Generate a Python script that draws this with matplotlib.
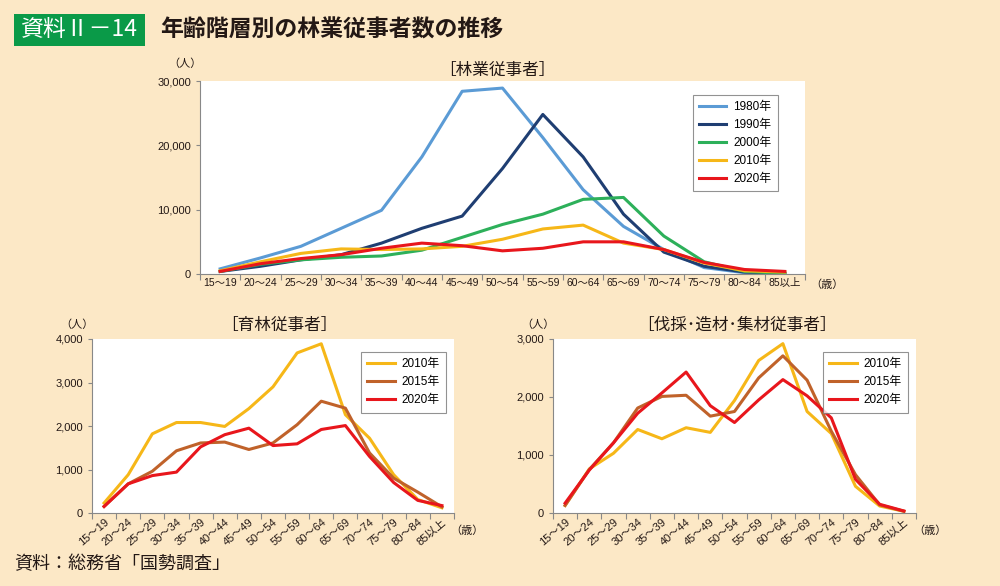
import matplotlib
matplotlib.use('Agg')
import matplotlib.pyplot as plt
from matplotlib.patches import Rectangle
import numpy as np

plt.rcParams['font.family'] = ['Noto Sans CJK JP', 'DejaVu Sans']
num_font = ['Liberation Sans', 'Noto Sans CJK JP']

ages = ['15〜19', '20〜24', '25〜29', '30〜34', '35〜39', '40〜44', '45〜49', '50〜54',
        '55〜59', '60〜64', '65〜69', '70〜74', '75〜79', '80〜84', '85以上']

# 林業従事者 (人)
total_1980 = [800, 2500, 4300, 7100, 9900, 18200, 28400, 28900, 21200, 13100, 7400, 3800, 1000, 200, 100]
total_1990 = [400, 1200, 2200, 3000, 4800, 7100, 9000, 16400, 24800, 18200, 9300, 3400, 1200, 300, 100]
total_2000 = [400, 1500, 2200, 2600, 2800, 3700, 5700, 7700, 9300, 11600, 11900, 5900, 1900, 400, 100]
total_2010 = [500, 1900, 3200, 3900, 3800, 3900, 4300, 5400, 7000, 7600, 4800, 3800, 1700, 500, 300]
total_2020 = [400, 1600, 2400, 3000, 4000, 4800, 4400, 3600, 4000, 5000, 5000, 3800, 1800, 700, 400]

# 育林従事者 (人)
iku_2010 = [230, 880, 1820, 2080, 2080, 1990, 2400, 2900, 3680, 3890, 2260, 1720, 880, 310, 120]
iku_2015 = [150, 670, 960, 1430, 1610, 1630, 1460, 1610, 2030, 2570, 2410, 1380, 800, 480, 140]
iku_2020 = [150, 670, 860, 940, 1520, 1800, 1950, 1550, 1590, 1920, 2010, 1300, 700, 290, 170]

# 伐採・造材・集材従事者 (人)
bas_2010 = [130, 760, 1030, 1440, 1280, 1470, 1390, 1940, 2630, 2920, 1750, 1370, 460, 120, 30]
bas_2015 = [130, 750, 1210, 1810, 2010, 2030, 1670, 1750, 2330, 2710, 2290, 1410, 660, 140, 30]
bas_2020 = [170, 740, 1210, 1720, 2070, 2430, 1850, 1560, 1950, 2300, 2020, 1640, 580, 150, 35]

bg = '#FCE8C6'
c_1980 = '#5B9BD5'
c_1990 = '#1F3E72'
c_2000 = '#2DB05A'
c_2010 = '#F6B718'
c_2015 = '#C0622A'
c_2020 = '#E8161C'
txt = '#231815'
W, H = 1000, 586

fig = plt.figure(figsize=(W / 100, H / 100), dpi=100, facecolor=bg)


def box(l, t, r, b):
    return fig.add_axes([l / W, 1 - b / H, (r - l) / W, (b - t) / H])


def style(ax, ymax, ystep, rotate):
    x = np.arange(len(ages))
    ax.set_xlim(-0.5, len(ages) - 0.5)
    ax.set_ylim(0, ymax)
    ax.set_facecolor('white')
    for s in ['top', 'right']:
        ax.spines[s].set_visible(False)
    for s in ['left', 'bottom']:
        ax.spines[s].set_color('#888888')
        ax.spines[s].set_linewidth(0.8)
    ax.set_xticks(np.arange(-0.5, len(ages)), [''] * (len(ages) + 1))
    ax.set_xticks(x, ages, minor=True)
    ax.tick_params(axis='x', which='major', length=4, color='#888888', direction='out')
    ax.tick_params(axis='x', which='minor', length=0, labelsize=7.5, colors=txt, pad=3)
    yt = np.arange(0, ymax + 1, ystep)
    ax.set_yticks(yt, [f'{v:,}' for v in yt])
    ax.tick_params(axis='y', length=3, color='#888888', labelsize=8, colors=txt)
    for lab in ax.get_yticklabels() + ax.get_xticklabels(minor=True):
        lab.set_family(num_font)
    if rotate:
        for lab in ax.get_xticklabels(minor=True):
            lab.set_rotation(40)
            lab.set_ha('right')
            lab.set_rotation_mode('anchor')
            lab.set_fontsize(8)


def legend(ax, loc_anchor):
    lg = ax.legend(loc='upper right', bbox_to_anchor=loc_anchor,
                   prop={'family': num_font, 'size': 8.5},
                   frameon=True, fancybox=False, handlelength=2.3, borderpad=0.55,
                   labelspacing=0.5, handletextpad=0.6)
    lg.get_frame().set_edgecolor('#777777')
    lg.get_frame().set_linewidth(0.8)


lw = 2.2

# top chart
ax1 = box(200, 81, 805, 274)
x = np.arange(len(ages))
ax1.plot(x, total_1980, color=c_1980, lw=lw, label='1980年')
ax1.plot(x, total_1990, color=c_1990, lw=lw, label='1990年')
ax1.plot(x, total_2000, color=c_2000, lw=lw, label='2000年')
ax1.plot(x, total_2010, color=c_2010, lw=lw, label='2010年')
ax1.plot(x, total_2020, color=c_2020, lw=lw, label='2020年')
style(ax1, 30000, 10000, False)
legend(ax1, (0.965, 0.96))
fig.text(497 / W, 1 - 70 / H, '［林業従事者］', ha='center', va='center', fontsize=12, color=txt)
fig.text(185 / W, 1 - 64 / H, '（人）', ha='center', va='center', fontsize=8, color=txt)
fig.text(810 / W, 1 - 285 / H, '（歳）', ha='left', va='center', fontsize=8, color=txt)

# bottom left
ax2 = box(92, 339, 454, 513)
ax2.plot(x, iku_2010, color=c_2010, lw=lw, label='2010年')
ax2.plot(x, iku_2015, color=c_2015, lw=lw, label='2015年')
ax2.plot(x, iku_2020, color=c_2020, lw=lw, label='2020年')
style(ax2, 4000, 1000, True)
legend(ax2, (0.995, 0.96))
fig.text(279 / W, 1 - 325 / H, '［育林従事者］', ha='center', va='center', fontsize=12, color=txt)
fig.text(77 / W, 1 - 325 / H, '（人）', ha='center', va='center', fontsize=8, color=txt)
fig.text(450 / W, 1 - 531 / H, '（歳）', ha='left', va='center', fontsize=8, color=txt)

# bottom right
ax3 = box(553, 339, 916, 513)
ax3.plot(x, bas_2010, color=c_2010, lw=lw, label='2010年')
ax3.plot(x, bas_2015, color=c_2015, lw=lw, label='2015年')
ax3.plot(x, bas_2020, color=c_2020, lw=lw, label='2020年')
style(ax3, 3000, 1000, True)
legend(ax3, (0.995, 0.96))
fig.text(737 / W, 1 - 325 / H, '［伐採･造材･集材従事者］', ha='center', va='center', fontsize=12, color=txt)
fig.text(538 / W, 1 - 325 / H, '（人）', ha='center', va='center', fontsize=8, color=txt)
fig.text(913 / W, 1 - 531 / H, '（歳）', ha='left', va='center', fontsize=8, color=txt)

# header
fig.patches.append(Rectangle((14 / W, 1 - 46 / H), 131 / W, 32 / H, transform=fig.transFigure,
                             facecolor='#0A9A48', edgecolor='none'))
fig.text(79 / W, 1 - 30 / H, '資料Ⅱ－14', ha='center', va='center', fontsize=16.5, color='white')
fig.text(160 / W, 1 - 30 / H, '年齢階層別の林業従事者数の推移', ha='left', va='center',
         fontsize=16.5, fontweight='bold', color=txt)
fig.text(14 / W, 1 - 564 / H, '資料：総務省「国勢調査」', ha='left', va='center', fontsize=13, color=txt)

fig.savefig('out.png', dpi=100, facecolor=bg)
